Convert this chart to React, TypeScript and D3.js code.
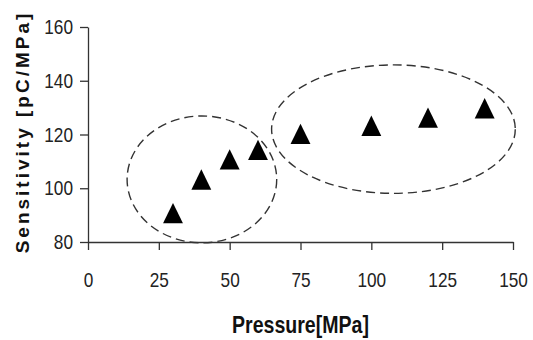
import React, { useRef, useEffect } from "react";
import * as d3 from "d3";

// data
const pressure = [30, 40, 50, 60, 75, 100, 120, 140];
const sensitivity = [89.5, 102, 109.5, 113, 119, 122, 125, 128.5];
const xTicks = [0, 25, 50, 75, 100, 125, 150];
const yTicks = [80, 100, 120, 140, 160];
// dashed groups: centre x, centre y, radius x, radius y (data units)
const groupCx = [40.2, 107.8];
const groupCy = [103.3, 122];
const groupRx = [26.4, 43];
const groupRy = [23.6, 23.9];

const App = () => {
  const container = useRef<SVGSVGElement>(null);

  const width = 533;
  const height = 340;
  const margin = { left: 88, right: 20, top: 27, bottom: 98 };
  const narrow = 0.82; // squeeze to mimic a condensed face

  useEffect(() => {
    const svg = d3.select(container.current);
    svg.selectAll("*").remove();

    const x = d3.scaleLinear().domain([0, 150]).range([margin.left, width - margin.right]);
    const y = d3.scaleLinear().domain([80, 160]).range([height - margin.bottom, margin.top]);

    const font = "'Liberation Sans', Arial, sans-serif";

    // axes
    const xAxis = svg
      .append("g")
      .attr("transform", `translate(0, ${y(80)})`)
      .call(d3.axisBottom(x).tickValues(xTicks).tickSize(8).tickPadding(22).tickSizeOuter(0));
    xAxis.select(".domain").attr("stroke", "#333").attr("stroke-width", 1.3);
    xAxis.selectAll(".tick line").attr("stroke", "#333").attr("stroke-width", 1.3);
    xAxis
      .selectAll("text")
      .style("font-family", font)
      .style("font-size", "21px")
      .attr("fill", "#222")
      .attr("transform", `scale(${narrow}, 1)`);

    const yAxis = svg
      .append("g")
      .attr("transform", `translate(${x(0)}, 0)`)
      .call(d3.axisLeft(y).tickValues(yTicks).tickSize(8).tickSizeOuter(0));
    yAxis.select(".domain").attr("stroke", "#333").attr("stroke-width", 1.3);
    yAxis.selectAll(".tick line").attr("stroke", "#333").attr("stroke-width", 1.3);
    yAxis
      .selectAll("text")
      .style("font-family", font)
      .style("font-size", "21px")
      .attr("fill", "#222")
      .attr("x", -15 / narrow)
      .attr("transform", `scale(${narrow}, 1)`);

    // dashed ellipses
    svg
      .selectAll(".group")
      .data(groupCx)
      .enter()
      .append("ellipse")
      .attr("cx", d => x(d))
      .attr("cy", (d, i) => y(groupCy[i]))
      .attr("rx", (d, i) => x(groupRx[i]) - x(0))
      .attr("ry", (d, i) => y(80) - y(80 + groupRy[i]))
      .attr("fill", "none")
      .attr("stroke", "#333")
      .attr("stroke-width", 1.4)
      .attr("stroke-dasharray", "9,5");

    // triangle markers
    const tri = d3.symbol().type(d3.symbolTriangle).size(190);
    svg
      .selectAll(".pt")
      .data(pressure)
      .enter()
      .append("path")
      .attr("d", tri)
      .attr("transform", (d, i) => `translate(${x(d)}, ${y(sensitivity[i])}) scale(0.95, 1.12)`)
      .attr("fill", "#000");

    // axis titles
    svg
      .append("text")
      .attr("transform", `translate(${x(75)}, 333) scale(0.85, 1)`)
      .attr("text-anchor", "middle")
      .style("font-family", font)
      .style("font-weight", "bold")
      .style("font-size", "23px")
      .attr("fill", "#111")
      .text("Pressure[MPa]");

    svg
      .append("text")
      .attr("transform", `translate(29, 132) rotate(-90)`)
      .attr("text-anchor", "middle")
      .style("font-family", font)
      .style("font-weight", "bold")
      .style("font-size", "19px")
      .style("letter-spacing", "3px")
      .attr("fill", "#111")
      .text("Sensitivity [pC/MPa]");
  }, []);

  return (
    <svg
      ref={container}
      width={width}
      height={height}
      style={{ position: "absolute", left: 0, top: 0, background: "#fff" }}
    />
  );
};

export default App;
